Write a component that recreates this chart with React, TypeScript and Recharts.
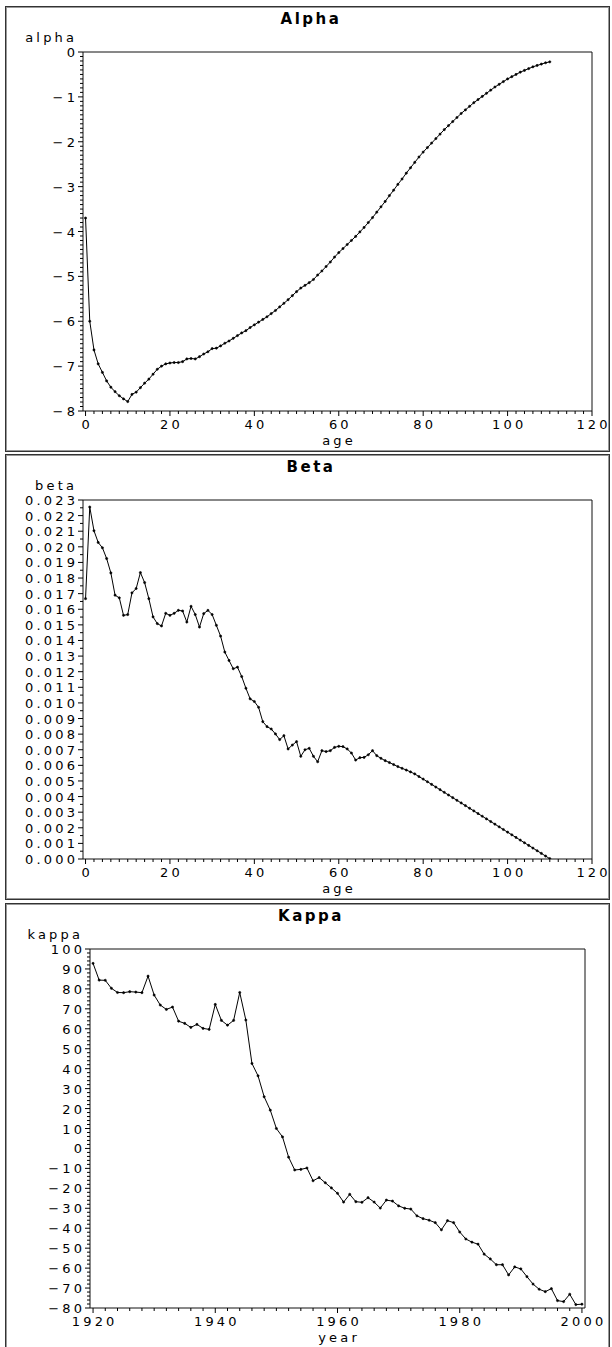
import React from "react";
import { LineChart, Line, XAxis, YAxis, ReferenceArea } from "recharts";

// alpha by age 0..110
const ALPHA = [
  -3.7, -6.0, -6.64, -6.95, -7.14, -7.33, -7.47, -7.57, -7.66, -7.73,
  -7.79, -7.63, -7.58, -7.48, -7.38, -7.29, -7.18, -7.07, -7.0, -6.95,
  -6.93, -6.92, -6.92, -6.9, -6.84, -6.83, -6.84, -6.79, -6.73, -6.68,
  -6.61, -6.6, -6.55, -6.49, -6.44, -6.38, -6.32, -6.26, -6.21, -6.14,
  -6.08, -6.02, -5.96, -5.9, -5.83, -5.76, -5.68, -5.6, -5.52, -5.43,
  -5.34, -5.26, -5.2, -5.14, -5.07, -4.97, -4.88, -4.78, -4.68, -4.57,
  -4.47, -4.38, -4.29, -4.2, -4.11, -4.01, -3.91, -3.8, -3.69, -3.57,
  -3.45, -3.33, -3.2, -3.08, -2.95, -2.83, -2.7, -2.58, -2.46, -2.34,
  -2.23, -2.13, -2.03, -1.93, -1.83, -1.73, -1.64, -1.55, -1.46, -1.37,
  -1.29, -1.21, -1.13, -1.06, -0.99, -0.92, -0.85, -0.78, -0.72, -0.66,
  -0.6, -0.55, -0.5, -0.45, -0.41, -0.37, -0.33, -0.3, -0.27, -0.24,
  -0.22,
];

// beta by age 0..110
const BETA = [
  0.01668, 0.02255, 0.02103, 0.02028, 0.01994, 0.01925, 0.01833, 0.0169, 0.01673, 0.01561,
  0.01566, 0.01705, 0.01733, 0.01835, 0.01771, 0.01668, 0.01551, 0.01508, 0.01493, 0.01574,
  0.01561, 0.01574, 0.01593, 0.01589, 0.01518, 0.01619, 0.01566, 0.01486, 0.01572, 0.01593,
  0.01566, 0.01497, 0.01428, 0.01326, 0.01272, 0.01219, 0.01229, 0.01169, 0.01094, 0.01026,
  0.01009, 0.00972, 0.0088, 0.00848, 0.00833, 0.00801, 0.00765, 0.0079, 0.00705, 0.0073,
  0.00752, 0.00658, 0.007, 0.00709, 0.00658, 0.00623, 0.00694, 0.00688, 0.00694, 0.00715,
  0.00722, 0.0072, 0.00705, 0.00679, 0.00634, 0.00649, 0.00651, 0.00668, 0.00694, 0.00662,
  0.00645, 0.0063, 0.00618, 0.00605, 0.00592, 0.00581, 0.0057, 0.00558, 0.00545, 0.00528,
  0.00512, 0.00495, 0.00478, 0.00461, 0.00444, 0.00427, 0.0041, 0.00393, 0.00376, 0.00359,
  0.00342, 0.00325, 0.00308, 0.00291, 0.00274, 0.00257, 0.0024, 0.00223, 0.00206, 0.00189,
  0.00172, 0.00155, 0.00138, 0.00121, 0.00104, 0.00087, 0.0007, 0.00053, 0.00036, 0.00019,
  0.00002,
];

// kappa by year 1920..2000
const KAPPA = [
  92.8, 84.4, 84.3, 80.3, 78.2, 78.1, 78.6, 78.4, 78.1, 86.4,
  76.9, 71.9, 69.7, 70.9, 63.8, 62.7, 60.7, 62.2, 60.2, 59.7,
  72.2, 64.2, 61.8, 64.2, 78.2, 64.4, 42.6, 36.4, 25.9, 19.2,
  10.0, 5.8, -4.4, -10.8, -10.5, -9.8, -16.2, -14.6, -17.2, -19.8,
  -22.5, -26.9, -23.0, -26.7, -27.0, -24.7, -26.9, -29.9, -25.9, -26.4,
  -28.8, -30.0, -30.4, -33.8, -35.2, -36.0, -37.2, -40.8, -36.2, -37.2,
  -41.9, -45.4, -47.0, -48.0, -53.0, -55.4, -58.3, -58.3, -63.4, -59.4,
  -60.4, -64.3, -68.0, -70.6, -71.8, -70.3, -76.3, -76.8, -73.1, -78.3,
  -78.1,
];

const FIRST_AGE = 0;
const FIRST_YEAR = 1920;

const AGE_TICKS = [0, 20, 40, 60, 80, 100, 120];
const YEAR_TICKS = [1920, 1940, 1960, 1980, 2000];
const ALPHA_TICKS = [-8, -7, -6, -5, -4, -3, -2, -1, 0];
const BETA_TICKS = [
  0, 0.001, 0.002, 0.003, 0.004, 0.005, 0.006, 0.007, 0.008, 0.009, 0.01, 0.011,
  0.012, 0.013, 0.014, 0.015, 0.016, 0.017, 0.018, 0.019, 0.02, 0.021, 0.022, 0.023,
];
const KAPPA_TICKS = [-80, -70, -60, -50, -40, -30, -20, -10, 0, 10, 20, 30, 40, 50, 60, 70, 80, 90, 100];

const FONT = "'DejaVu Sans', Verdana, sans-serif";
const SPACING = 3.2;
const tickText = { fontFamily: FONT, fontSize: 13, letterSpacing: SPACING, fill: "#000" };

const withMinor = (major: number[], sub: number) => {
  const out: number[] = [];
  major.forEach((m, i) => {
    out.push(m);
    if (i < major.length - 1) {
      const step = (major[i + 1] - m) / sub;
      for (let k = 1; k < sub; k++) out.push(m + step * k);
    }
  });
  return out;
};

const isMajor = (major: number[], v: number) => major.some((m) => Math.abs(m - v) < 1e-9);
const minus = (s: string) => s.replace("-", "\u2212");

const yTick = (major: number[], fmt: (v: number) => string) => (p: any) => {
  const v = p.payload.value;
  const big = isMajor(major, v);
  return (
    <g>
      <line x1={p.x} x2={p.x - (big ? 5 : 3)} y1={p.y} y2={p.y} stroke="#000" />
      {big && (
        <text x={p.x - 8 + SPACING} y={p.y} dy={5} textAnchor="end" style={tickText}>
          {fmt(v)}
        </text>
      )}
    </g>
  );
};

const xTick = (major: number[]) => (p: any) => {
  const v = p.payload.value;
  const big = isMajor(major, v);
  return (
    <g>
      <line x1={p.x} x2={p.x} y1={p.y} y2={p.y + (big ? 5 : 3)} stroke="#000" />
      {big && (
        <text x={p.x + SPACING / 2} y={p.y + 13} dy={5} textAnchor="middle" style={tickText}>
          {String(v)}
        </text>
      )}
    </g>
  );
};

function Txt({ x, y, w, align, size, bold, spacing, children }: any) {
  const left = align === "right" ? x - w : align === "center" ? x - w / 2 : x;
  const h = Math.round(size);
  return (
    <div
      style={{
        position: "absolute",
        left,
        top: y - h / 2,
        width: w,
        height: h,
        lineHeight: `${h}px`,
        textAlign: align,
        fontFamily: FONT,
        fontSize: size,
        fontWeight: bold ? 700 : 400,
        letterSpacing: spacing,
        color: "#000",
        whiteSpace: "nowrap",
      }}
    >
      {children}
    </div>
  );
}

const PANEL_H = 446;

function Panel(props: any) {
  const { top, title, yName, xName, data, xDomain, yDomain, xMajor, xSub, yMajor, ySub, fmtY, plotLeft, plotRight, yNameRight } = props;
  const plotTop = 46;
  const plotBottom = 405;
  const cx = (plotLeft + plotRight) / 2;
  return (
    <>
      <div
        style={{
          position: "absolute",
          left: 5,
          top,
          width: 605,
          height: PANEL_H,
          boxSizing: "border-box",
          border: "1px solid #333",
          boxShadow: "inset 0 0 0 1px #999",
        }}
      />
      <div style={{ position: "absolute", left: 0, top }}>
        <LineChart
          width={612}
          height={PANEL_H}
          data={data}
          margin={{ top: plotTop, right: 612 - plotRight, bottom: 0, left: 0 }}
        >
          <XAxis
            dataKey="x"
            type="number"
            domain={xDomain}
            ticks={withMinor(xMajor, xSub)}
            interval={0}
            allowDataOverflow
            height={PANEL_H - plotBottom}
            axisLine={false}
            tickLine={false}
            tickSize={0}
            tickMargin={0}
            tick={xTick(xMajor)}
          />
          <YAxis
            dataKey="v"
            type="number"
            domain={yDomain}
            ticks={withMinor(yMajor, ySub)}
            interval={0}
            allowDataOverflow
            width={plotLeft}
            axisLine={false}
            tickLine={false}
            tickSize={0}
            tickMargin={0}
            tick={yTick(yMajor, fmtY)}
          />
          <ReferenceArea
            x1={xDomain[0]}
            x2={xDomain[1]}
            y1={yDomain[0]}
            y2={yDomain[1]}
            fill="none"
            stroke="#111"
            strokeWidth={1}
            ifOverflow="visible"
          />
          <Line
            type="linear"
            dataKey="v"
            stroke="#000"
            strokeWidth={1}
            dot={{ r: 1.1, fill: "#000", stroke: "#000", strokeWidth: 0.6 }}
            isAnimationActive={false}
          />
        </LineChart>
      </div>
      <Txt x={311} y={top + 13} w={200} align="center" size={15} bold spacing={2.5}>
        {title}
      </Txt>
      <Txt x={yNameRight + SPACING} y={top + 31} w={90} align="right" size={13} spacing={SPACING}>
        {yName}
      </Txt>
      <Txt x={cx + SPACING / 2} y={top + 434} w={100} align="center" size={13} spacing={SPACING}>
        {xName}
      </Txt>
    </>
  );
}

const ageRows = (vals: number[]) => vals.map((v, i) => ({ x: FIRST_AGE + i, v }));
const yearRows = (vals: number[]) => vals.map((v, i) => ({ x: FIRST_YEAR + i, v }));

export default function App() {
  return (
    <div style={{ position: "absolute", left: 0, top: 0, width: 612, height: 1347, background: "#fff", overflow: "hidden" }}>
      <Panel
        top={6}
        title="Alpha"
        yName="alpha"
        xName="age"
        data={ageRows(ALPHA)}
        xDomain={[-0.6, 120]}
        yDomain={[-8, 0]}
        xMajor={AGE_TICKS}
        xSub={10}
        yMajor={ALPHA_TICKS}
        ySub={10}
        fmtY={(v: number) => minus(String(v))}
        plotLeft={83}
        plotRight={592}
        yNameRight={74}
      />
      <Panel
        top={454}
        title="Beta"
        yName="beta"
        xName="age"
        data={ageRows(BETA)}
        xDomain={[-0.6, 120]}
        yDomain={[0, 0.023]}
        xMajor={AGE_TICKS}
        xSub={10}
        yMajor={BETA_TICKS}
        ySub={2}
        fmtY={(v: number) => v.toFixed(3)}
        plotLeft={83}
        plotRight={592}
        yNameRight={74}
      />
      <Panel
        top={903}
        title="Kappa"
        yName="kappa"
        xName="year"
        data={yearRows(KAPPA)}
        xDomain={[1919.5, 2000.5]}
        yDomain={[-80, 100]}
        xMajor={YEAR_TICKS}
        xSub={10}
        yMajor={KAPPA_TICKS}
        ySub={5}
        fmtY={(v: number) => minus(String(v))}
        plotLeft={90}
        plotRight={585}
        yNameRight={80}
      />
    </div>
  );
}
